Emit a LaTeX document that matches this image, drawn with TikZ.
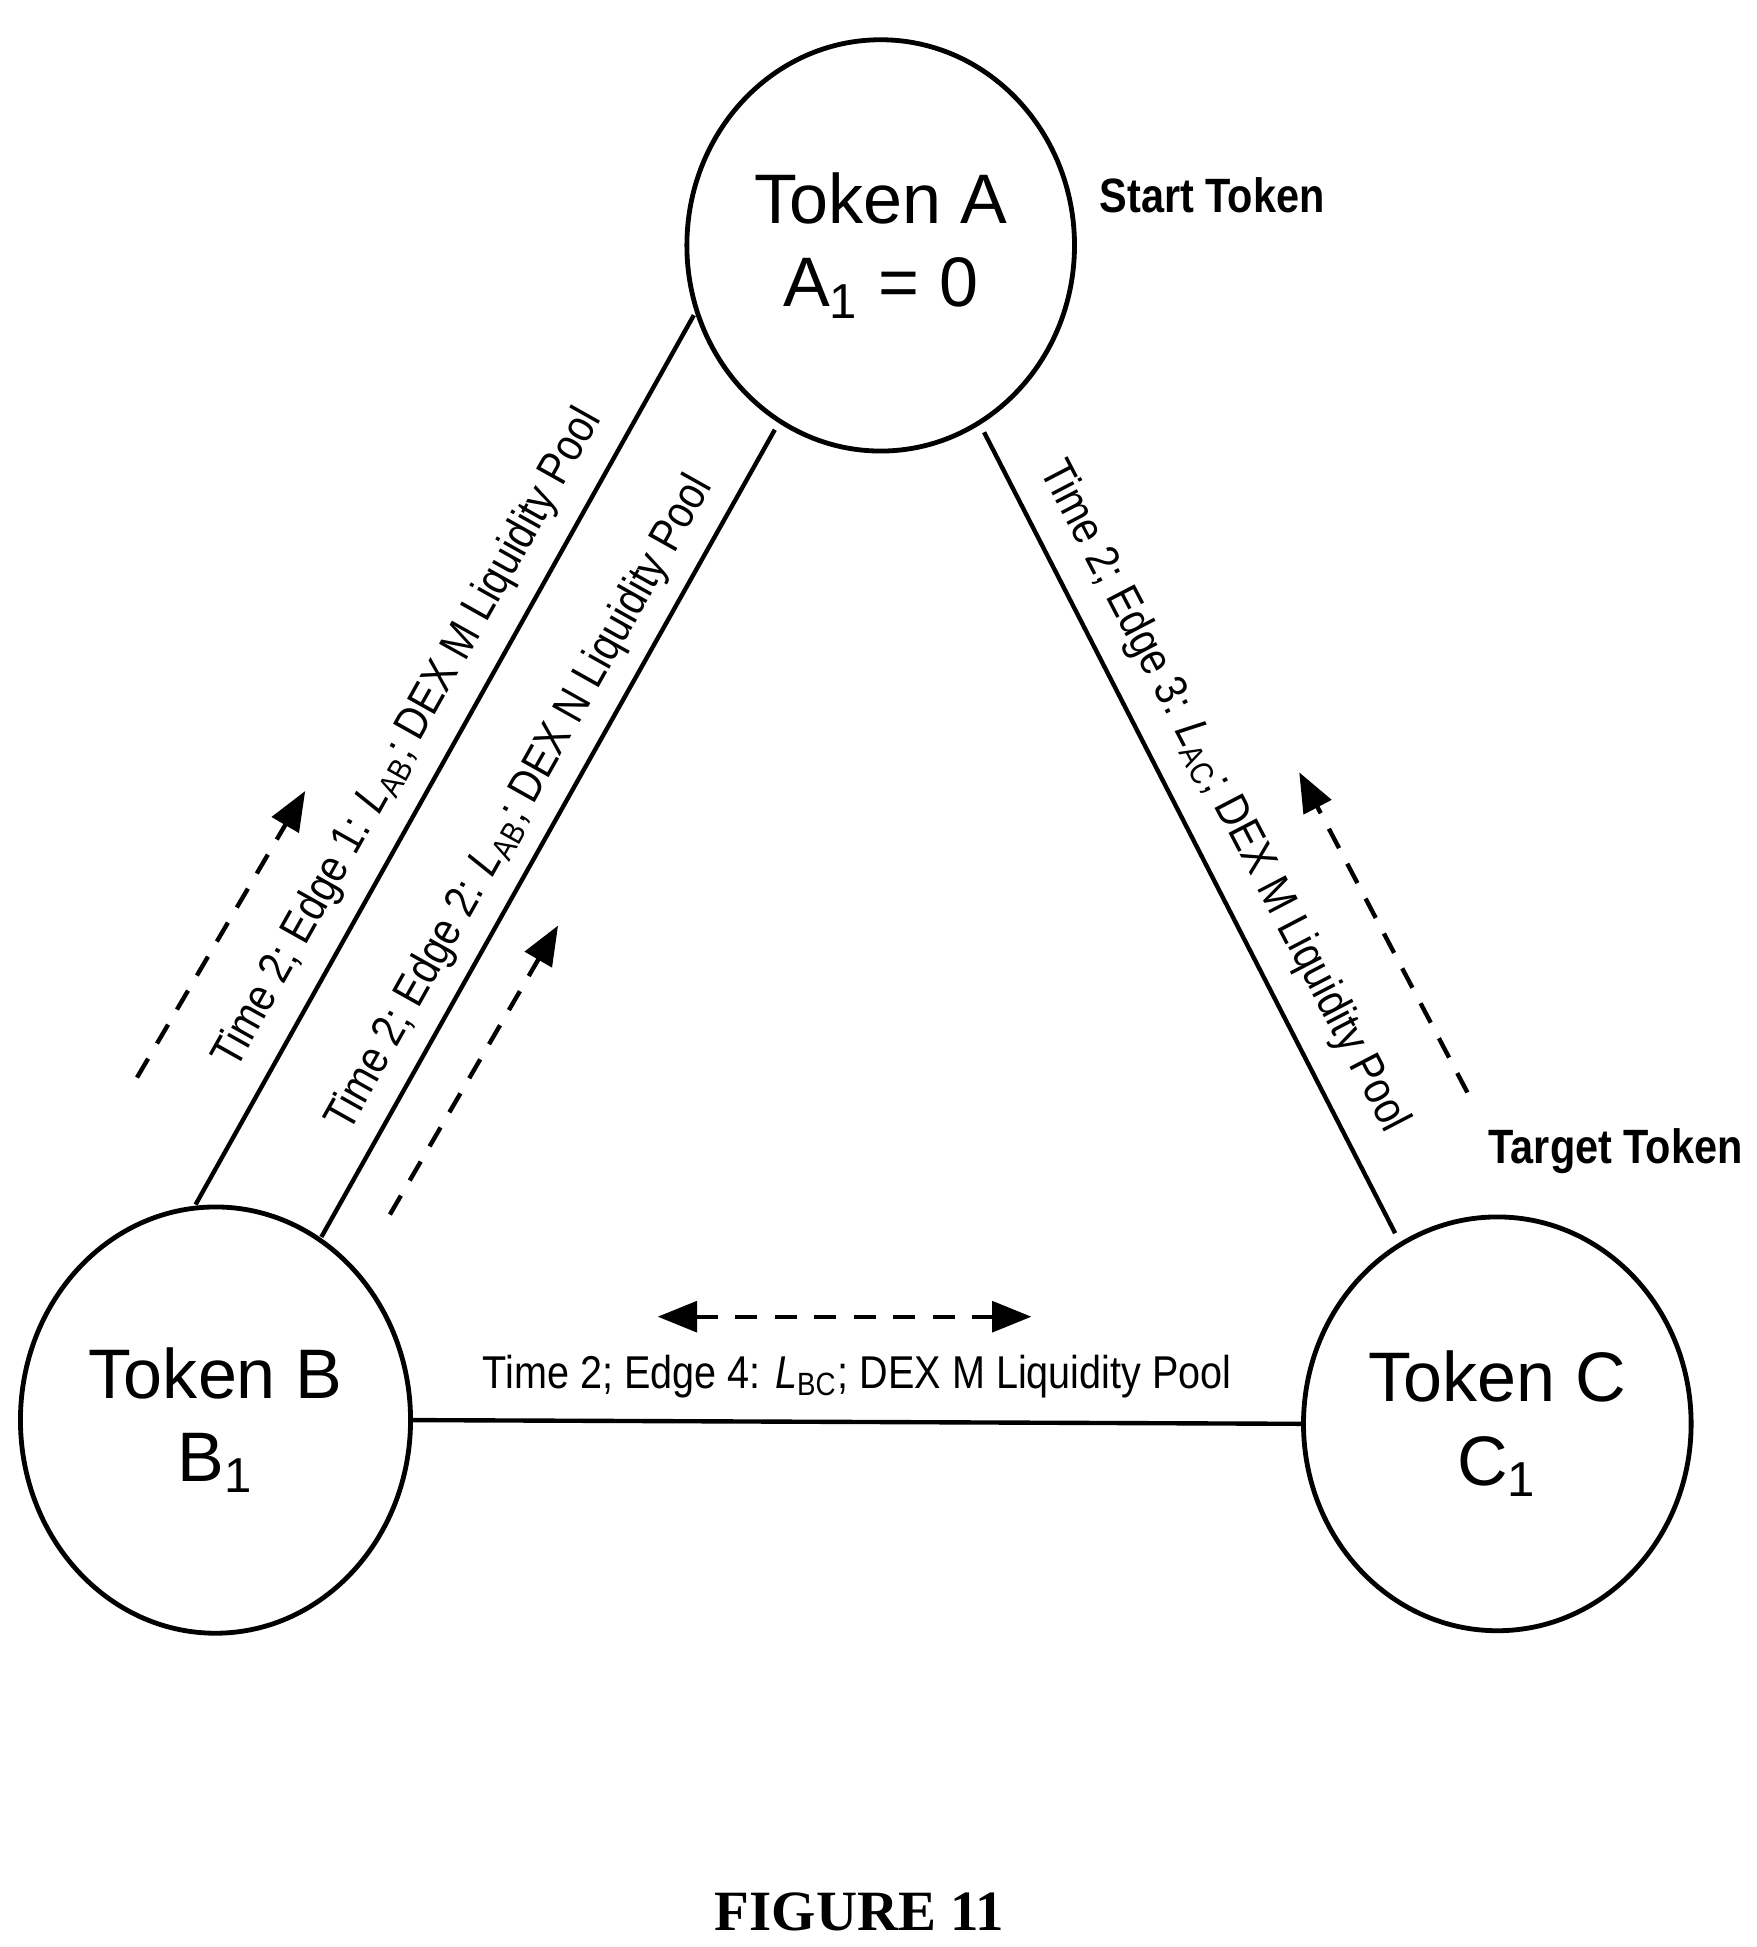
\documentclass[tikz,border=0pt]{standalone}
\usepackage{fontspec}
\setmainfont{Liberation Sans}
\newfontfamily\narrowfont{Liberation Sans}[FakeStretch=0.86]
\newfontfamily\serifbf{Liberation Serif}
\usetikzlibrary{shapes.geometric,arrows.meta}
\newcommand{\Lsub}[1]{\textit{L}\textsubscript{#1}}
\begin{document}
\begin{tikzpicture}[x=0.01cm,y=-0.01cm,
  tok/.style={draw,line width=1.1pt,ellipse,inner sep=0pt,align=center,font=\fontsize{16}{19}\selectfont},
  edge/.style={line width=1pt},
  lab/.style={font=\narrowfont\fontsize{10.5}{12}\selectfont},
  flow/.style={line width=1pt,dash pattern=on 5pt off 4pt,-{Triangle[length=9pt,width=7pt]}},
  note/.style={font=\narrowfont\bfseries\fontsize{11}{13}\selectfont}]
\useasboundingbox (0,0) rectangle (1410,1563);
\node[tok,minimum width=3.11cm,minimum height=3.3cm] (A) at (707,197) {Token A\\A\textsubscript{1} = 0};
\node[tok,minimum width=3.13cm,minimum height=3.42cm] (B) at (173,1140) {Token B\\B\textsubscript{1}};
\node[tok,minimum width=3.11cm,minimum height=3.32cm] (C) at (1202,1143) {Token C\\C\textsubscript{1}};
\coordinate (a1) at (557,253); \coordinate (b1) at (157,967);
\coordinate (a2) at (622,345); \coordinate (b2) at (258,993);
\coordinate (a3) at (790,347); \coordinate (c3) at (1120,990);
\draw[edge] (a1) -- (b1);
\draw[edge] (a2) -- (b2);
\draw[edge] (a3) -- (c3);
\draw[edge] (B.east) -- (C.west);
\node[lab,rotate=60.7] (l1) at (328,593) {Time 2; Edge 1: \Lsub{AB}; DEX M Liquidity Pool};
\node[lab,rotate=60.7] (l2) at (418,645) {Time 2; Edge 2: \Lsub{AB}; DEX N Liquidity Pool};
\node[lab,rotate=-62.5] (l3) at (982,640) {Time 2; Edge 3: \Lsub{AC}; DEX M Liquidity Pool};
\node[lab] (l4) at (688,1105) {Time 2; Edge 4: \Lsub{BC}; DEX M Liquidity Pool};
\coordinate (d1s) at (110,865); \coordinate (d1e) at (245,635);
\coordinate (d2s) at (313,975); \coordinate (d2e) at (448,743);
\coordinate (d3s) at (1178,877); \coordinate (d3e) at (1043,620);
\coordinate (d4s) at (528,1057); \coordinate (d4e) at (828,1057);
\draw[flow] (d1s) -- (d1e);
\draw[flow] (d2s) -- (d2e);
\draw[flow] (d3s) -- (d3e);
\draw[flow,{Triangle[length=9pt,width=7pt]}-{Triangle[length=9pt,width=7pt]}] (d4s) -- (d4e);
\node[note] (st) at (973,157) {Start Token};
\node[note] (tt) at (1297,924) {Target Token};
\node[font=\serifbf\bfseries\fontsize{13}{15}\selectfont] (fig) at (690,1535) {FIGURE 11};
\end{tikzpicture}
\end{document}
